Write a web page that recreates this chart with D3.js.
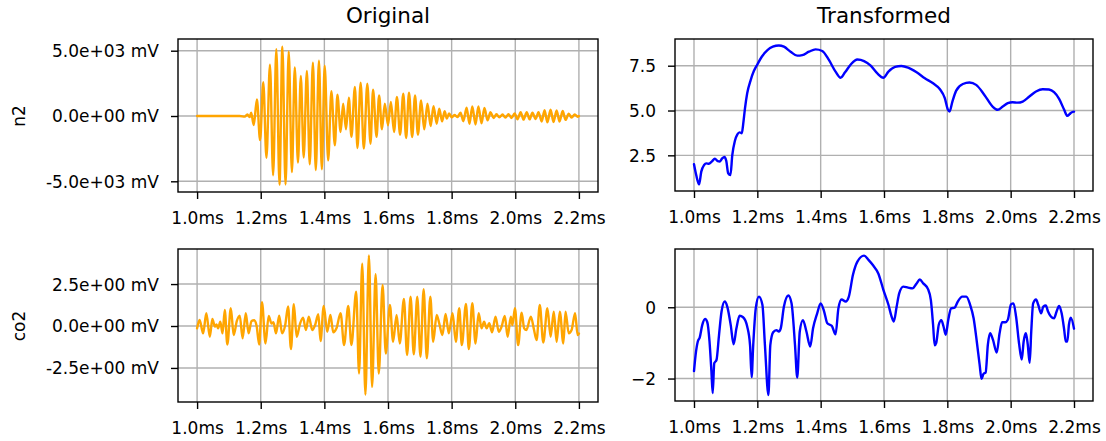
<!DOCTYPE html>
<html><head><meta charset="utf-8">
<script src="https://cdn.jsdelivr.net/npm/d3@7"></script>
<style>body{margin:0;background:#fff}svg{display:block}text{font-family:"DejaVu Sans",sans-serif}</style>
</head><body><svg id="c" width="1106" height="441"></svg>
<script>
// ---------- data ----------
const columnTitles = ["Original", "Transformed"];
const rowLabels = ["n2", "co2"];
const xTickValues = [1.0, 1.2, 1.4, 1.6, 1.8, 2.0, 2.2];
const xTickLabels = ["1.0ms", "1.2ms", "1.4ms", "1.6ms", "1.8ms", "2.0ms", "2.2ms"];
const n2TickValues = [-5000, 0, 5000];
const n2TickLabels = ["-5.0e+03 mV", "0.0e+00 mV", "5.0e+03 mV"];
const co2TickValues = [-2.5, 0, 2.5];
const co2TickLabels = ["-2.5e+00 mV", "0.0e+00 mV", "2.5e+00 mV"];
const n2TransTickValues = [2.5, 5.0, 7.5];
const n2TransTickLabels = ["2.5", "5.0", "7.5"];
const co2TransTickValues = [-2, 0];
const co2TransTickLabels = ["\u22122", "0"];

const n2Time = [1.000,1.134,1.150,1.158,1.165,1.170,1.178,1.188,1.198,1.208,1.218,1.229,1.239,1.249,1.259,1.268,1.278,1.288,1.298,1.307,1.317,1.326,1.335,1.345,1.354,1.364,1.373,1.383,1.392,1.401,1.412,1.422,1.433,1.441,1.451,1.459,1.468,1.477,1.485,1.496,1.504,1.514,1.524,1.535,1.545,1.553,1.564,1.572,1.581,1.590,1.600,1.609,1.619,1.628,1.638,1.648,1.657,1.666,1.676,1.685,1.694,1.704,1.714,1.724,1.734,1.743,1.753,1.761,1.770,1.778,1.785,1.792,1.800,1.809,1.818,1.828,1.837,1.847,1.856,1.865,1.875,1.884,1.894,1.903,1.913,1.922,1.932,1.941,1.950,1.960,1.969,1.979,1.988,1.998,2.007,2.017,2.026,2.036,2.045,2.054,2.064,2.073,2.083,2.092,2.101,2.111,2.120,2.130,2.139,2.149,2.158,2.168,2.177,2.187,2.196,2.200];
const n2Value = [0,0,-50,120,-80,250,-700,1270,-1850,2590,-3200,3930,-4540,5120,-5250,5300,-5250,4930,-4300,3720,-3570,3060,-3180,3450,-3700,4080,-4130,4230,-4080,3850,-3400,1900,-2240,1630,-1220,940,-1020,1400,-1600,2220,-2450,2550,-2500,2470,-2120,2010,-1600,1580,-1020,940,-710,1070,-1220,1450,-1430,1710,-1680,1790,-1610,1580,-1430,1200,-1020,940,-770,760,-590,560,-410,360,-200,200,-100,80,-80,250,-400,640,-590,740,-660,740,-560,610,-330,300,-150,130,-100,120,-120,140,-150,200,-250,300,-280,300,-260,250,-230,300,-420,450,-480,480,-460,430,-420,380,-300,180,-120,120,-60,0];

const co2Time = [1.000,1.008,1.019,1.029,1.040,1.048,1.056,1.061,1.066,1.073,1.080,1.087,1.095,1.106,1.115,1.125,1.134,1.143,1.153,1.162,1.171,1.179,1.187,1.195,1.204,1.215,1.225,1.234,1.240,1.248,1.258,1.267,1.277,1.286,1.295,1.304,1.313,1.323,1.333,1.342,1.351,1.362,1.371,1.381,1.388,1.398,1.409,1.419,1.428,1.438,1.451,1.462,1.475,1.485,1.500,1.509,1.519,1.529,1.540,1.550,1.561,1.571,1.583,1.593,1.606,1.616,1.627,1.637,1.650,1.660,1.671,1.681,1.692,1.702,1.712,1.722,1.733,1.742,1.753,1.761,1.771,1.781,1.791,1.803,1.813,1.824,1.832,1.845,1.854,1.865,1.875,1.885,1.894,1.902,1.910,1.918,1.927,1.938,1.948,1.957,1.967,1.976,1.986,1.991,1.999,2.009,2.020,2.028,2.035,2.049,2.058,2.067,2.077,2.088,2.101,2.111,2.121,2.130,2.140,2.151,2.158,2.168,2.177,2.188,2.196,2.200];
const co2Value = [-0.14,0.36,-0.44,0.76,-0.64,0.42,-0.04,0.10,-0.14,0.26,-0.44,0.96,-1.10,1.06,-0.54,0.30,0.62,-0.74,0.76,-0.44,0.30,0.34,0.02,-1.10,1.42,-1.04,0.60,0.14,0.22,-0.44,0.62,-0.44,0.06,1.16,-1.38,1.30,-0.64,0.10,0.50,-0.24,0.56,-0.24,0.06,0.70,-0.90,1.20,-0.34,0.66,-0.38,-0.14,0.76,-1.14,1.20,-1.14,2.05,-2.83,3.71,-4.09,4.21,-3.63,3.09,-2.83,2.45,-1.64,1.26,-0.94,0.66,-1.04,1.62,-1.73,1.75,-1.69,1.75,-1.83,2.19,-1.93,1.75,-0.94,0.66,0.16,-0.54,0.72,-0.44,0.76,-0.94,1.06,-1.14,1.32,-1.38,1.36,-1.04,0.76,-0.14,0.26,-0.14,0.16,-0.38,0.56,-0.34,-0.04,0.60,-0.64,0.56,0.06,1.06,-1.14,0.80,-0.14,-0.24,0.56,-0.14,-0.84,1.26,-0.98,1.06,-0.64,0.86,-0.94,0.86,-1.04,0.86,-0.44,-0.24,0.76,-0.54,-0.45];

const n2TransTime = [1.000,1.007,1.016,1.023,1.032,1.039,1.047,1.056,1.066,1.075,1.081,1.089,1.096,1.102,1.108,1.115,1.121,1.129,1.137,1.144,1.151,1.155,1.161,1.168,1.179,1.189,1.200,1.214,1.232,1.249,1.268,1.284,1.305,1.326,1.342,1.363,1.384,1.405,1.426,1.447,1.463,1.477,1.495,1.516,1.537,1.558,1.579,1.598,1.614,1.635,1.655,1.676,1.703,1.729,1.755,1.776,1.792,1.802,1.807,1.816,1.828,1.849,1.870,1.891,1.917,1.943,1.959,1.975,1.991,2.006,2.022,2.038,2.059,2.080,2.101,2.121,2.137,2.153,2.169,2.179,2.186,2.192,2.200];
const n2TransValue = [2.00,1.40,0.88,1.59,1.96,2.05,2.03,2.15,2.31,2.18,2.16,2.33,2.41,2.18,1.50,1.40,2.52,3.30,3.67,3.78,3.73,4.19,5.12,5.96,6.70,7.20,7.57,8.00,8.37,8.56,8.63,8.56,8.28,8.06,8.09,8.28,8.41,8.32,7.82,7.17,6.83,7.13,7.57,7.85,7.76,7.50,7.07,6.83,7.17,7.43,7.48,7.39,7.13,6.80,6.52,6.20,5.69,5.04,4.94,5.50,6.11,6.48,6.56,6.43,5.87,5.22,5.04,5.22,5.41,5.46,5.44,5.50,5.78,6.06,6.19,6.17,6.02,5.65,5.04,4.70,4.80,4.89,4.94];

const co2TransTime = [1.000,1.005,1.012,1.018,1.026,1.035,1.042,1.049,1.055,1.059,1.064,1.071,1.079,1.087,1.097,1.105,1.116,1.125,1.134,1.144,1.155,1.168,1.177,1.182,1.187,1.195,1.205,1.216,1.224,1.235,1.241,1.250,1.260,1.268,1.274,1.284,1.298,1.308,1.319,1.326,1.334,1.344,1.355,1.367,1.376,1.389,1.400,1.411,1.421,1.435,1.447,1.456,1.466,1.479,1.489,1.502,1.516,1.537,1.551,1.566,1.582,1.598,1.614,1.624,1.631,1.640,1.648,1.661,1.676,1.690,1.703,1.713,1.724,1.739,1.748,1.755,1.760,1.765,1.773,1.781,1.788,1.795,1.803,1.812,1.823,1.833,1.847,1.860,1.872,1.883,1.893,1.902,1.908,1.914,1.921,1.928,1.935,1.944,1.956,1.965,1.973,1.983,1.991,2.001,2.009,2.017,2.027,2.035,2.041,2.048,2.054,2.060,2.065,2.071,2.080,2.087,2.096,2.103,2.111,2.118,2.127,2.137,2.145,2.153,2.161,2.169,2.174,2.179,2.184,2.190,2.200];
const co2TransValue = [-1.79,-1.34,-0.96,-0.85,-0.50,-0.33,-0.42,-0.96,-1.80,-2.41,-1.57,-1.48,-0.78,-0.12,0.16,0.02,-0.50,-1.04,-0.59,-0.24,-0.28,-0.54,-1.06,-1.96,-1.06,-0.03,0.30,0.07,-1.06,-2.46,-1.06,-0.70,-0.64,-0.68,-0.59,0.02,0.33,0.11,-1.06,-1.97,-0.68,-0.36,-0.68,-1.10,-0.59,-0.17,0.11,-0.12,-0.45,-0.52,-0.76,-0.03,0.22,0.16,0.30,0.91,1.28,1.45,1.33,1.17,0.95,0.49,0.07,-0.26,-0.40,0.02,0.39,0.58,0.55,0.53,0.67,0.78,0.67,0.51,0.20,-0.49,-1.07,-1.00,-0.49,-0.36,-0.54,-0.77,-0.35,-0.03,-0.01,0.16,0.30,0.30,0.07,-0.31,-0.96,-1.61,-2.01,-1.87,-1.83,-1.05,-0.73,-0.91,-1.27,-0.73,-0.42,-0.42,-0.35,0.08,0.11,-0.26,-1.05,-1.47,-0.96,-0.73,-1.05,-1.56,-0.68,0.11,0.22,0.07,-0.17,0.02,0.05,-0.12,-0.26,-0.31,-0.12,0.04,-0.17,-0.63,-0.96,-0.96,-0.49,-0.29,-0.60];

// ---------- layout ----------
const svg = d3.select("#c");
const xDomain = [0.94, 2.26];
const panels = [
  {x0:178, x1:598, y0:39, y1:192, t:n2Time, v:n2Value, dom:[-5819,5896], tv:n2TickValues, tl:n2TickLabels, color:"#ffa500"},
  {x0:675, x1:1093, y0:39, y1:191, t:n2TransTime, v:n2TransValue, dom:[0.51,8.99], tv:n2TransTickValues, tl:n2TransTickLabels, color:"#0000ff"},
  {x0:178, x1:598, y0:249, y1:402, t:co2Time, v:co2Value, dom:[-4.53,4.59], tv:co2TickValues, tl:co2TickLabels, color:"#ffa500"},
  {x0:675, x1:1093, y0:249, y1:401, t:co2TransTime, v:co2TransValue, dom:[-2.63,1.635], tv:co2TransTickValues, tl:co2TransTickLabels, color:"#0000ff"}
];
const grid = "#b0b0b0";

panels.forEach(p => {
  const x = d3.scaleLinear().domain(xDomain).range([p.x0, p.x1]);
  const y = d3.scaleLinear().domain(p.dom).range([p.y1, p.y0]);
  const g = svg.append("g");
  // grid
  g.selectAll(".gx").data(xTickValues).join("line")
    .attr("x1", d => x(d)).attr("x2", d => x(d)).attr("y1", p.y0).attr("y2", p.y1)
    .attr("stroke", grid).attr("stroke-width", 1.4);
  g.selectAll(".gy").data(p.tv).join("line")
    .attr("y1", d => y(d)).attr("y2", d => y(d)).attr("x1", p.x0).attr("x2", p.x1)
    .attr("stroke", grid).attr("stroke-width", 1.4);
  // line
  const pts = p.t.map((t, i) => [t, p.v[i]]);
  g.append("path").datum(pts)
    .attr("d", d3.line().x(d => x(d[0])).y(d => y(d[1])).curve(d3.curveMonotoneX))
    .attr("fill", "none").attr("stroke", p.color).attr("stroke-width", 2.4)
    .attr("stroke-linejoin", "round").attr("stroke-linecap", "round");
  // frame
  g.append("rect").attr("x", p.x0).attr("y", p.y0).attr("width", p.x1 - p.x0).attr("height", p.y1 - p.y0)
    .attr("fill", "none").attr("stroke", "#000").attr("stroke-width", 1.4);
  // axes
  const ax = g.append("g").attr("transform", `translate(0,${p.y1})`)
    .call(d3.axisBottom(x).tickValues(xTickValues).tickFormat((d, i) => xTickLabels[i]).tickSize(7));
  ax.select(".domain").remove();
  ax.selectAll("line").attr("stroke", "#000").attr("stroke-width", 1.4);
  ax.selectAll("text").attr("y", 32).attr("dy", null).attr("fill", "#000")
    .style("font-size", "17px").style("font-family", "'DejaVu Sans', sans-serif");
  const ay = g.append("g").attr("transform", `translate(${p.x0},0)`)
    .call(d3.axisLeft(y).tickValues(p.tv).tickFormat((d, i) => p.tl[i]).tickSize(7));
  ay.select(".domain").remove();
  ay.selectAll("line").attr("stroke", "#000").attr("stroke-width", 1.4);
  ay.selectAll("text").attr("x", -19).attr("dy", "0.35em").attr("fill", "#000")
    .style("font-size", "17px").style("font-family", "'DejaVu Sans', sans-serif");
});

// titles
[[388, columnTitles[0]], [884, columnTitles[1]]].forEach(([cx, s]) => {
  svg.append("text").attr("x", cx).attr("y", 23.3).attr("text-anchor", "middle")
    .style("font-size", "21.5px").attr("fill", "#000").text(s);
});
// row labels
[[116, rowLabels[0]], [326, rowLabels[1]]].forEach(([cy, s]) => {
  svg.append("text").attr("transform", `translate(25,${cy}) rotate(-90)`).attr("text-anchor", "middle")
    .style("font-size", "17px").attr("fill", "#000").text(s);
});
</script></body></html>
